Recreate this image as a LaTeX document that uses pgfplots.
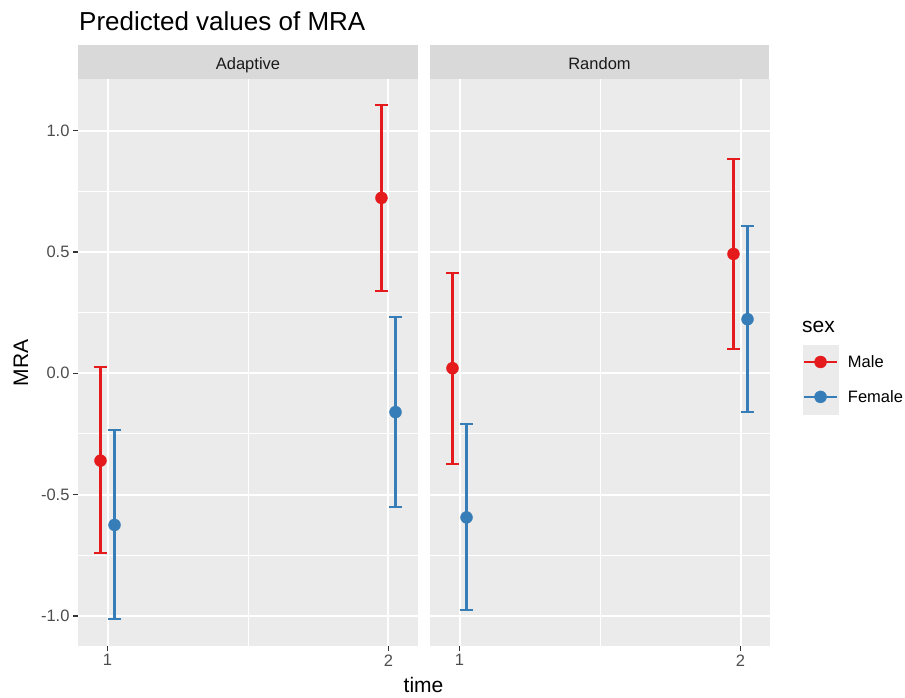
\documentclass[border=0pt]{standalone}
\usepackage{fontspec}
\setmainfont{Liberation Sans}
\usepackage{pgfplots}
\pgfplotsset{compat=1.18}
\usepackage{pgfplotstable}
\definecolor{ggred}{HTML}{E41A1C}
\definecolor{ggblue}{HTML}{377EB8}
\definecolor{panelbg}{HTML}{EBEBEB}
\definecolor{stripbg}{HTML}{D9D9D9}
\definecolor{tickgrey}{HTML}{4D4D4D}
\definecolor{tickmark}{HTML}{333333}
\definecolor{striptext}{HTML}{1A1A1A}

% x = time (dodged), y = predicted, ep/em = distance to upper/lower CI
\pgfplotstableread{
x y ep em
0.975 -0.360 0.387 0.382
1.975 0.723 0.384 0.385
}\adaptmale
\pgfplotstableread{
x y ep em
1.025 -0.625 0.391 0.389
2.025 -0.160 0.393 0.391
}\adaptfemale
\pgfplotstableread{
x y ep em
0.975 0.021 0.394 0.394
1.975 0.492 0.391 0.392
}\randmale
\pgfplotstableread{
x y ep em
1.025 -0.594 0.386 0.383
2.025 0.223 0.384 0.384
}\randfemale

\pgfplotsset{
  panel/.style={
    width=340pt, height=567pt, scale only axis,
    xmin=0.895, xmax=2.105, ymin=-1.124, ymax=1.213,
    axis background/.style={fill=panelbg},
    axis line style={draw=none},
    xtick={1,2}, xticklabels={1,2},
    ytick={-1,-0.5,0,0.5,1},
    minor xtick={1.5}, minor ytick={-0.75,-0.25,0.25,0.75},
    grid=both,
    major grid style={white, line width=2pt},
    minor grid style={white, line width=1pt},
    tick align=outside, major tick length=5pt, minor tick length=0pt,
    xtick pos=left, ytick pos=left,
    major tick style={tickmark, line width=1.5pt},
    tick label style={font=\fontsize{16.5}{18}\selectfont, text=tickgrey},
    clip=false,
  },
  errbar/.style={color=#1, only marks, mark=*, mark size=6pt,
    mark options={draw=#1, fill=#1},
    error bars/y dir=both, error bars/y explicit,
    error bars/error bar style={#1, line width=2.2pt},
    error bars/error mark options={#1, rotate=90, mark size=6.5pt, line width=2.2pt},
  },
}

\begin{document}
\begin{tikzpicture}
\useasboundingbox (0pt,0pt) rectangle (905pt,-697pt);

\begin{axis}[panel, at={(78pt,-646pt)}, anchor=south west,
  yticklabels={-1.0,-0.5,0.0,0.5,1.0}]
\addplot[errbar=ggred] table[x=x, y=y, y error plus=ep, y error minus=em] {\adaptmale};
\addplot[errbar=ggblue] table[x=x, y=y, y error plus=ep, y error minus=em] {\adaptfemale};
\end{axis}

\begin{axis}[panel, at={(430pt,-646pt)}, anchor=south west,
  yticklabels={}, ytick style={draw=none},
  legend style={at={(axis description cs:1.0973,0.5317)}, anchor=north west,
    draw=none, fill=none, inner sep=0pt, outer sep=0pt, row sep=0pt, column sep=10pt,
    font=\fontsize{16.5}{18}\selectfont, nodes={inner sep=0pt, outer sep=0pt},
    cells={anchor=west}}]
\addplot[errbar=ggred, forget plot] table[x=x, y=y, y error plus=ep, y error minus=em] {\randmale};
\addplot[errbar=ggblue, forget plot] table[x=x, y=y, y error plus=ep, y error minus=em] {\randfemale};
\addlegendimage{legend image code/.code={
  \fill[panelbg] (0pt,-17.25pt) rectangle (34.5pt,17.25pt);
  \draw[ggred, line width=2.2pt] (1pt,0pt) -- (33.5pt,0pt);
  \fill[ggred] (17.25pt,0pt) circle (6pt);}}
\addlegendentry{Male}
\addlegendimage{legend image code/.code={
  \fill[panelbg] (0pt,-17.25pt) rectangle (34.5pt,17.25pt);
  \draw[ggblue, line width=2.2pt] (1pt,0pt) -- (33.5pt,0pt);
  \fill[ggblue] (17.25pt,0pt) circle (6pt);}}
\addlegendentry{Female}
\end{axis}

% facet strips
\fill[stripbg] (78pt,-79pt) rectangle (418pt,-45pt);
\fill[stripbg] (430pt,-79pt) rectangle (769pt,-45pt);
\node[anchor=base, inner sep=0pt, text=striptext, font=\fontsize{16.5}{18}\selectfont] at (248pt,-69pt) {Adaptive};
\node[anchor=base, inner sep=0pt, text=striptext, font=\fontsize{16.5}{18}\selectfont] at (599.5pt,-69pt) {Random};

% titles
\node[anchor=base west, inner sep=0pt, font=\fontsize{26}{30}\selectfont] at (79pt,-30pt) {Predicted values of MRA};
\node[anchor=base, inner sep=0pt, font=\fontsize{21}{24}\selectfont] at (423.5pt,-692pt) {time};
\node[anchor=base, inner sep=0pt, rotate=90, font=\fontsize{21}{24}\selectfont] at (28pt,-363pt) {MRA};
\node[anchor=base west, inner sep=0pt, font=\fontsize{21}{24}\selectfont] at (802pt,-332pt) {sex};
\end{tikzpicture}
\end{document}
